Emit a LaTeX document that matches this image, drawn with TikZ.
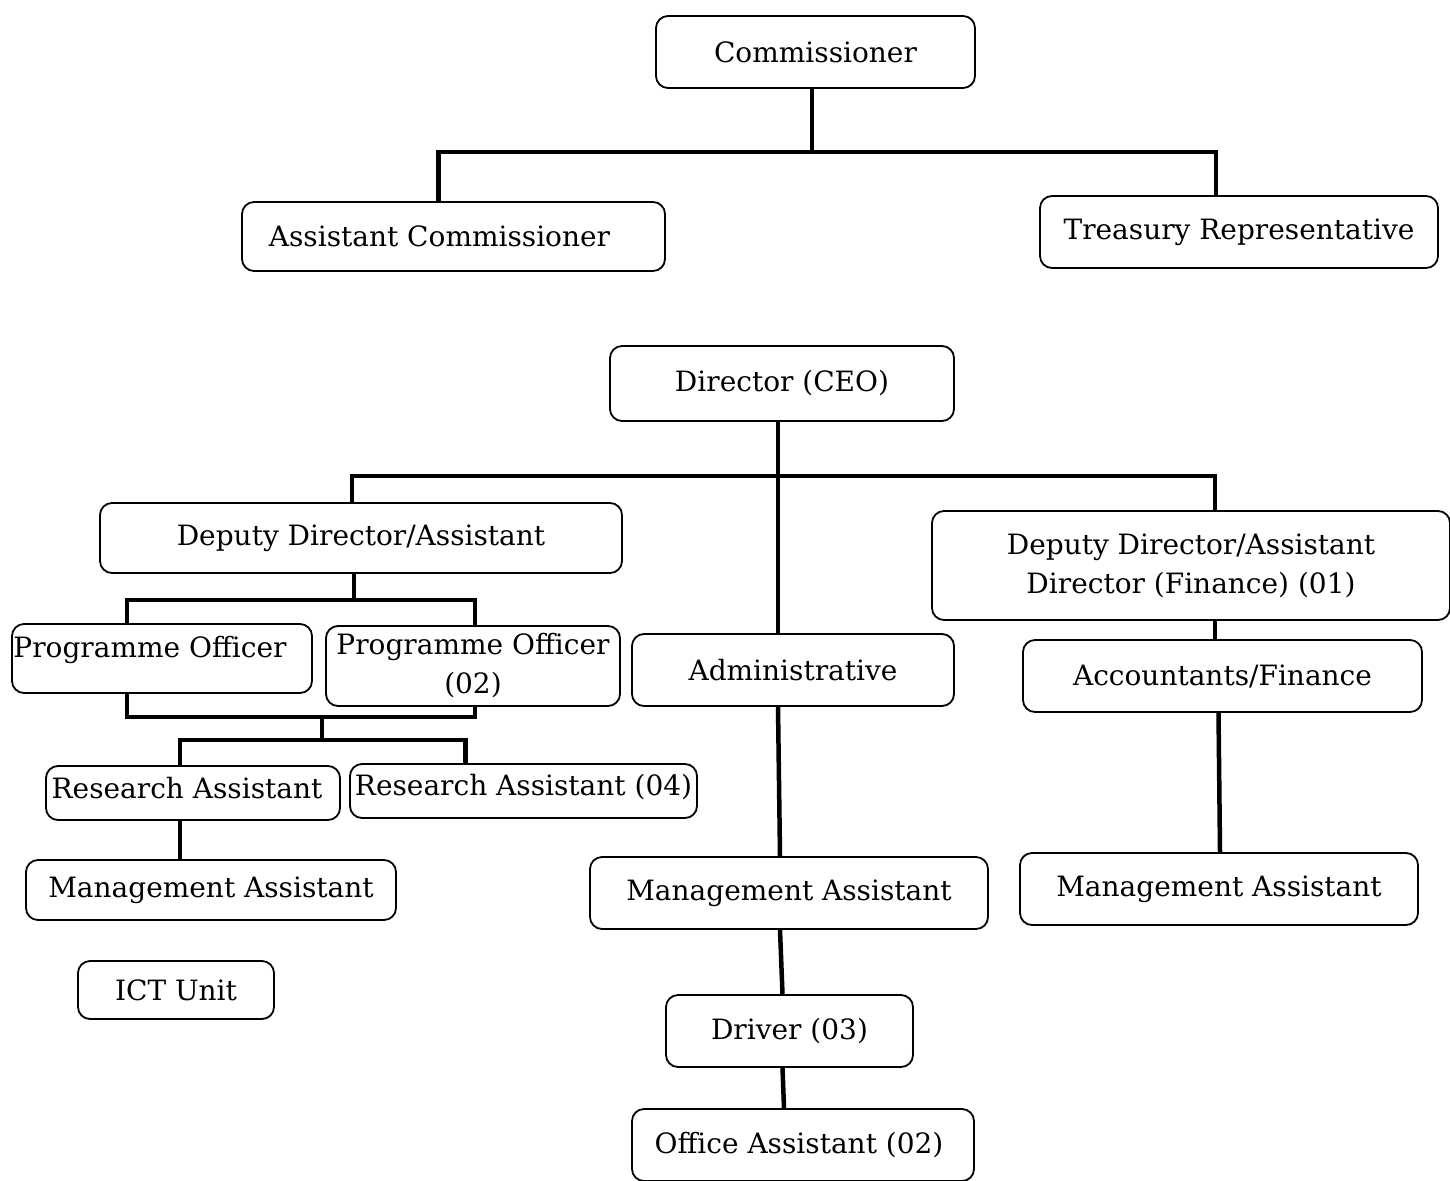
\documentclass[tikz,border=0pt]{standalone}
\usepackage{fontspec}
\setmainfont{DejaVu Serif}
\usepackage{tikz}
\usetikzlibrary{positioning}

\begin{document}
\begin{tikzpicture}[
    x=1pt, y=-1pt,
    box/.style={rectangle, draw, line width=1.8pt, rounded corners=12pt, align=center, inner sep=0pt, font=\fontsize{28}{39}\selectfont},
    link/.style={line width=4.5pt}
]
\useasboundingbox (0,0) rectangle (1450,1180);

\node[box, minimum width=319pt, minimum height=72pt] (comm) at (815.5,52) {Commissioner};
\node[box, minimum width=423pt, minimum height=69pt] (asstcomm) at (453.5,236.5) {Assistant Commissioner\hspace*{28pt}};
\node[box, minimum width=398pt, minimum height=72pt] (treasury) at (1239,232) {Treasury Representative};

\node[box, minimum width=344pt, minimum height=75pt] (director) at (782,383.5) {Director (CEO)};
\node[box, minimum width=522pt, minimum height=70pt] (depleft) at (361,538) {Deputy Director/Assistant};
\node[box, minimum width=518pt, minimum height=109pt] (depfin) at (1191,565.5) {Deputy Director/Assistant\\Director (Finance) (01)};

\node[box, minimum width=300pt, minimum height=69pt] (po1) at (162,658.5) {\raisebox{24pt}{Programme Officer}\hspace*{24pt}};
\node[box, minimum width=294pt, minimum height=80pt] (po2) at (473,666) {Programme Officer\\(02)};
\node[box, minimum width=294pt, minimum height=54pt] (ra1) at (193,793) {\raisebox{10pt}{Research Assistant}\hspace*{12pt}};
\node[box, minimum width=347pt, minimum height=54pt] (ra2) at (523.5,791) {\raisebox{12pt}{Research Assistant (04)}};
\node[box, minimum width=370pt, minimum height=60pt] (ma1) at (211,890) {Management Assistant};
\node[box, minimum width=196pt, minimum height=58pt] (ict) at (176,990) {ICT Unit};

\node[box, minimum width=322pt, minimum height=72pt] (admin) at (793,670) {Administrative};
\node[box, minimum width=398pt, minimum height=72pt] (ma2) at (789,893) {Management Assistant};
\node[box, minimum width=247pt, minimum height=72pt] (driver) at (789.5,1031) {Driver (03)};
\node[box, minimum width=342pt, minimum height=72pt] (office) at (803,1145) {Office Assistant (02)\hspace*{8pt}};

\node[box, minimum width=399pt, minimum height=72pt] (acct) at (1222.5,676) {Accountants/Finance};
\node[box, minimum width=398pt, minimum height=72pt] (ma3) at (1219,889) {Management Assistant};

\coordinate (bar1) at (812,152);
\coordinate (bar2) at (778,476);
\coordinate (bar3) at (354,600);
\coordinate (bar4) at (322,717);
\coordinate (bar5) at (322,740);

\draw[link] ([xshift=-3.5]comm.south) -- ([xshift=-3.5]comm.south |- bar1);
\draw[link] ([xshift=-15]asstcomm.north) |- (bar1) -| ([xshift=-23]treasury.north);

\draw[link] ([xshift=-4]director.south) -- ([xshift=-4]director.south |- admin.north);
\draw[link] ([xshift=-9]depleft.north) |- (bar2) -| ([xshift=24]depfin.north);

\draw[link] ([xshift=-7]depleft.south) -- ([xshift=-7]depleft.south |- bar3);
\draw[link] ([xshift=-35]po1.north) |- (bar3) -| ([xshift=2]po2.north);
\draw[link] ([xshift=-35]po1.south) |- (bar4) -| ([xshift=2]po2.south);
\draw[link] (bar4) -- (bar5);
\draw[link] ([xshift=-13]ra1.north) |- (bar5) -| ([xshift=-58]ra2.north);
\draw[link] ([xshift=-13]ra1.south) -- ([xshift=-13]ra1.south |- ma1.north);

\draw[link] ([xshift=-15]admin.south) -- ([xshift=-9]ma2.north);
\draw[link] ([xshift=-9]ma2.south) -- ([xshift=-7]driver.north);
\draw[link] ([xshift=-7]driver.south) -- ([xshift=-19]office.north);

\draw[link] ([xshift=24]depfin.south) -- ([xshift=24]depfin.south |- acct.north);
\draw[link] ([xshift=-4]acct.south) -- ([xshift=1]ma3.north);
\end{tikzpicture}
\end{document}
